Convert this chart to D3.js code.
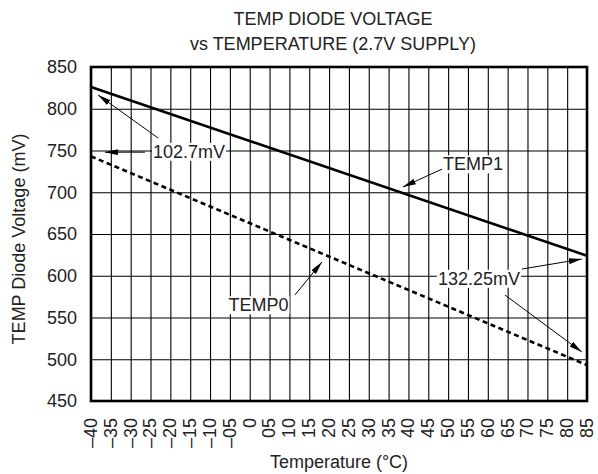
<!DOCTYPE html>
<html>
<head>
<meta charset="utf-8">
<script src="https://cdn.jsdelivr.net/npm/d3@7"></script>
<style>
  body { margin: 0; background: #fff; }
  svg { display: block; font-family: "Liberation Sans", Arial, Helvetica, sans-serif; }
</style>
</head>
<body>
<div id="chart"></div>
<script>
// values
const temps = [-40, 85];           // °C
const temp1 = [826, 624];          // mV, solid line
const temp0 = [743, 493];          // mV, dashed line
const xTicks = d3.range(-40, 86, 5);
const yTicks = [450, 500, 550, 600, 650, 700, 750, 800, 850];
const titleLines = ["TEMP DIODE VOLTAGE", "vs TEMPERATURE (2.7V SUPPLY)"];

// callouts in data units: label centre + arrows [fromT, fromV, toT, toV]
const callouts = [
  { text: "102.7mV", t: -15.3, v: 748.8, arrows: [[-23.1, 765, -38.2, 816.5], [-26.4, 748, -36.5, 748]] },
  { text: "TEMP1", t: 56.3, v: 733.8, arrows: [[48.5, 727.8, 38.6, 706.3]] },
  { text: "TEMP0", t: 2.2, v: 565, arrows: [[11.4, 577, 18.2, 616.5]] },
  { text: "132.25mV", t: 57.8, v: 596.7, arrows: [[68.6, 608, 83.7, 620], [64.3, 577, 83.7, 508.7]] }
];

const W = 598, H = 474;
const margin = { top: 67, right: 11, bottom: 73, left: 91 };
const width = W - margin.left - margin.right;
const height = H - margin.top - margin.bottom;

const svg = d3.select("#chart").append("svg")
  .attr("width", W)
  .attr("height", H);

svg.append("defs").append("marker")
  .attr("id", "head")
  .attr("viewBox", "0 0 13 6")
  .attr("refX", 13)
  .attr("refY", 3)
  .attr("markerWidth", 13)
  .attr("markerHeight", 6)
  .attr("markerUnits", "userSpaceOnUse")
  .attr("orient", "auto")
  .append("path")
  .attr("d", "M0,0L13,3L0,6Z")
  .attr("fill", "#000");

const g = svg.append("g")
  .attr("transform", `translate(${margin.left},${margin.top})`);

const x = d3.scaleLinear().domain([-40, 85]).range([0, width]);
const y = d3.scaleLinear().domain([450, 850]).range([height, 0]);

// title
svg.append("text")
  .attr("x", 333)
  .attr("y", 25)
  .attr("text-anchor", "middle")
  .style("font-size", "18px")
  .style("fill", "#222")
  .selectAll("tspan")
  .data(titleLines)
  .join("tspan")
  .attr("x", 333)
  .attr("dy", (d, i) => i ? 25 : 0)
  .text(d => d);

// grid
g.append("g")
  .attr("class", "grid")
  .attr("transform", `translate(0,${height})`)
  .call(d3.axisBottom(x).tickValues(xTicks).tickSize(-height).tickFormat(""))
  .call(a => a.select(".domain").remove());

g.append("g")
  .attr("class", "grid")
  .call(d3.axisLeft(y).tickValues(yTicks).tickSize(-width).tickFormat(""))
  .call(a => a.select(".domain").remove());

g.selectAll(".grid line")
  .attr("stroke", "#000")
  .attr("stroke-width", 1.1);

// axes labels
const fmtT = d => {
  if (d === 0) return "0";
  const s = String(Math.abs(d)).padStart(2, "0");
  return d < 0 ? "\u2013" + s : s;
};

g.append("g")
  .attr("transform", `translate(0,${height})`)
  .call(d3.axisBottom(x).tickValues(xTicks).tickSize(0).tickFormat(fmtT))
  .call(a => a.select(".domain").remove())
  .call(a => a.selectAll("text")
    .attr("transform", "rotate(-90)")
    .attr("x", -17)
    .attr("y", 0)
    .attr("dy", "0.3em")
    .attr("text-anchor", "end")
    .style("font-size", "18px")
    .style("font-family", null)
    .attr("fill", "#222"));

g.append("g")
  .call(d3.axisLeft(y).tickValues(yTicks).tickSize(0).tickPadding(14))
  .call(a => a.select(".domain").remove())
  .call(a => a.selectAll("text")
    .style("font-size", "18px")
    .style("font-family", null)
    .attr("fill", "#222"));

svg.append("text")
  .attr("x", 339)
  .attr("y", 468)
  .attr("text-anchor", "middle")
  .style("font-size", "18px")
  .style("fill", "#222")
  .text("Temperature (\u00B0C)");

svg.append("text")
  .attr("transform", "translate(25,239) rotate(-90)")
  .attr("text-anchor", "middle")
  .style("font-size", "18px")
  .style("fill", "#222")
  .text("TEMP Diode Voltage (mV)");

// data lines
const line = d3.line()
  .x(d => x(d[0]))
  .y(d => y(d[1]));

g.append("path")
  .datum(temps.map((t, i) => [t, temp1[i]]))
  .attr("d", line)
  .attr("fill", "none")
  .attr("stroke", "#000")
  .attr("stroke-width", 2.6);

g.append("path")
  .datum(temps.map((t, i) => [t, temp0[i]]))
  .attr("d", line)
  .attr("fill", "none")
  .attr("stroke", "#000")
  .attr("stroke-width", 2.6)
  .attr("stroke-dasharray", "5,3.5");

// frame
g.append("rect")
  .attr("width", width)
  .attr("height", height)
  .attr("fill", "none")
  .attr("stroke", "#000")
  .attr("stroke-width", 2.6);

// callouts
callouts.forEach(c => {
  c.arrows.forEach(a => {
    g.append("line")
      .attr("x1", x(a[0])).attr("y1", y(a[1]))
      .attr("x2", x(a[2])).attr("y2", y(a[3]))
      .attr("stroke", "#000")
      .attr("stroke-width", 1)
      .attr("marker-end", "url(#head)");
  });
  const lab = g.append("g");
  const txt = lab.append("text")
    .attr("x", x(c.t))
    .attr("y", y(c.v))
    .attr("dy", "0.35em")
    .attr("text-anchor", "middle")
    .style("font-size", "18px")
    .style("fill", "#222")
    .text(c.text);
  const bb = txt.node().getBBox();
  lab.insert("rect", "text")
    .attr("x", bb.x - 1)
    .attr("y", bb.y + 1)
    .attr("width", bb.width + 2)
    .attr("height", bb.height - 2)
    .attr("fill", "#fff");
});
</script>
</body>
</html>
